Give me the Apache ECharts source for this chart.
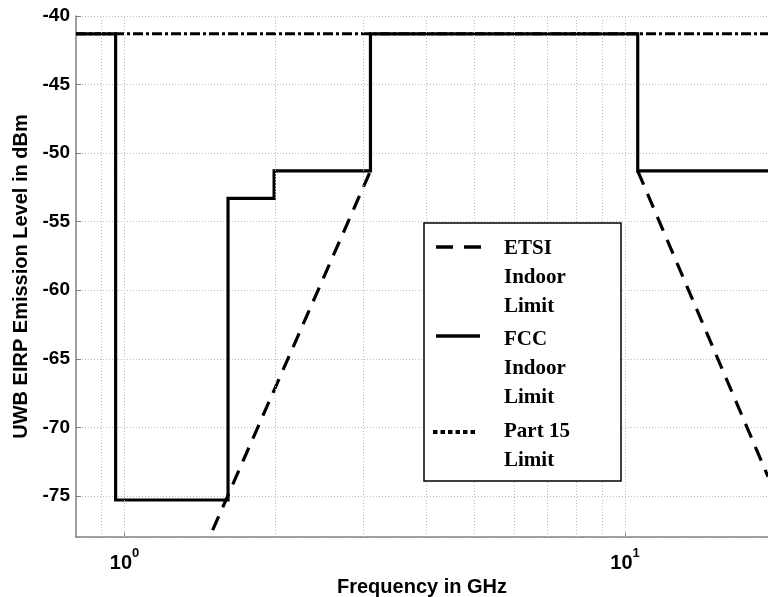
<!DOCTYPE html>
<html>
<head>
<meta charset="utf-8">
<script src="https://cdn.jsdelivr.net/npm/echarts@6/dist/echarts.min.js"></script>
<style>
html,body{margin:0;padding:0;background:#fff;}
#chart{width:768px;height:597px;}
</style>
</head>
<body>
<div id="chart"></div>
<script>
// ---- data ----
var fccFreq = [0.8, 0.96, 0.96, 1.61, 1.61, 1.99, 1.99, 3.1, 3.1, 10.6, 10.6, 19.3];
var fccLevel = [-41.3, -41.3, -75.3, -75.3, -53.3, -53.3, -51.3, -51.3, -41.3, -41.3, -51.3, -51.3];
var etsiLowFreq = [1.5, 3.1];
var etsiLowLevel = [-77.5, -51.3];
var etsiHighFreq = [10.6, 19.3];
var etsiHighLevel = [-51.3, -73.6];
var part15Freq = [0.8, 19.3];
var part15Level = [-41.3, -41.3];
var xGridValues = [0.9, 1, 2, 3, 4, 5, 6, 7, 8, 9, 10];
var legendEntries = [
  ['ETSI', 'Indoor', 'Limit'],
  ['FCC', 'Indoor', 'Limit'],
  ['Part 15', 'Limit']
];
var xAxisTitle = 'Frequency in GHz';
var yAxisTitle = 'UWB EIRP Emission Level in dBm';

function zip(a, b) { return a.map(function (v, i) { return [v, b[i]]; }); }

var chart = echarts.init(document.getElementById('chart'), null, {renderer: 'canvas'});
var sans = 'Liberation Sans, Arial, sans-serif';
var serif = 'Liberation Serif, Times New Roman, serif';

// legend graphics
var legendGraphic = [
  {type: 'rect', shape: {x: 424, y: 223, width: 197, height: 258}, style: {fill: '#fff', stroke: '#000', lineWidth: 1.5}, z: 100},
  {type: 'line', shape: {x1: 436, y1: 247, x2: 481, y2: 247}, style: {stroke: '#000', lineWidth: 3.5, lineDash: [17, 11]}, z: 101},
  {type: 'line', shape: {x1: 436, y1: 336, x2: 480, y2: 336}, style: {stroke: '#000', lineWidth: 3.5}, z: 101},
  {type: 'line', shape: {x1: 433, y1: 432, x2: 478, y2: 432}, style: {stroke: '#000', lineWidth: 4, lineDash: [4.5, 3]}, z: 101}
];
var entryTops = [234, 325, 417];
legendEntries.forEach(function (lines, i) {
  legendGraphic.push({
    type: 'text', x: 504, y: entryTops[i], z: 101,
    style: {text: lines.join('\n'), font: 'bold 21px ' + serif, fill: '#000', lineHeight: 29, verticalAlign: 'top', align: 'left'}
  });
});

var option = {
  animation: false,
  backgroundColor: '#fff',
  grid: {left: 76, top: 16, right: 0, bottom: 60, containLabel: false, outerBoundsMode: 'none'},
  xAxis: {
    type: 'log', logBase: 10, min: 0.8, max: 19.3,
    name: xAxisTitle, nameLocation: 'middle', nameGap: 38,
    nameTextStyle: {fontFamily: sans, fontWeight: 'bold', fontSize: 20, color: '#000'},
    axisLine: {show: true, lineStyle: {color: '#808080', width: 1.5}},
    axisTick: {show: true, inside: true, length: 5, lineStyle: {color: '#808080'}},
    splitLine: {show: false},
    axisLabel: {
      showMinLabel: false, showMaxLabel: false, margin: 10,
      formatter: function (v) {
        if (Math.abs(v - 1) < 1e-9) return '{a|10}{s|0}';
        if (Math.abs(v - 10) < 1e-9) return '{a|10}{s|1}';
        return '';
      },
      rich: {
        a: {fontFamily: sans, fontWeight: 'bold', fontSize: 20, color: '#000', lineHeight: 26, verticalAlign: 'bottom'},
        s: {fontFamily: sans, fontWeight: 'bold', fontSize: 13, color: '#000', lineHeight: 26, verticalAlign: 'top'}
      }
    }
  },
  yAxis: {
    type: 'value', min: -78, max: -40, splitNumber: 8,
    name: yAxisTitle, nameLocation: 'middle', nameGap: 42,
    nameTextStyle: {fontFamily: sans, fontWeight: 'bold', fontSize: 20, color: '#000'},
    axisLine: {show: true, lineStyle: {color: '#808080', width: 1.5}},
    axisTick: {show: true, inside: true, length: 5, lineStyle: {color: '#808080'}},
    splitLine: {show: true, lineStyle: {color: '#bdbdbd', width: 1, type: [1, 2]}},
    axisLabel: {
      showMinLabel: false, margin: 6,
      fontFamily: sans, fontWeight: 'bold', fontSize: 19, color: '#000',
      formatter: function (v) { return v === -78 ? '' : String(v); }
    }
  },
  graphic: legendGraphic,
  series: [
    {
      type: 'line', name: 'grid', data: [], z: 0, silent: true,
      markLine: {
        silent: true, symbol: 'none', label: {show: false}, animation: false,
        lineStyle: {color: '#bdbdbd', width: 1, type: [1, 2]},
        emphasis: {disabled: true},
        data: xGridValues.map(function (v) { return {xAxis: v}; })
      }
    },
    {
      type: 'line', name: 'Part 15 Limit', data: zip(part15Freq, part15Level), showSymbol: false, z: 2,
      lineStyle: {color: '#000', width: 3, type: [10, 3, 3, 3]}
    },
    {
      type: 'line', name: 'ETSI Indoor Limit', data: zip(etsiLowFreq, etsiLowLevel), showSymbol: false, z: 3,
      lineStyle: {color: '#000', width: 3.2, type: [15, 10]}
    },
    {
      type: 'line', name: 'ETSI Indoor Limit', data: zip(etsiHighFreq, etsiHighLevel), showSymbol: false, z: 3,
      lineStyle: {color: '#000', width: 3.2, type: [15, 10]}
    },
    {
      type: 'line', name: 'FCC Indoor Limit', data: zip(fccFreq, fccLevel), showSymbol: false, z: 4,
      lineStyle: {color: '#000', width: 3.2, join: 'miter'}
    }
  ]
};
chart.setOption(option);
</script>
</body>
</html>
